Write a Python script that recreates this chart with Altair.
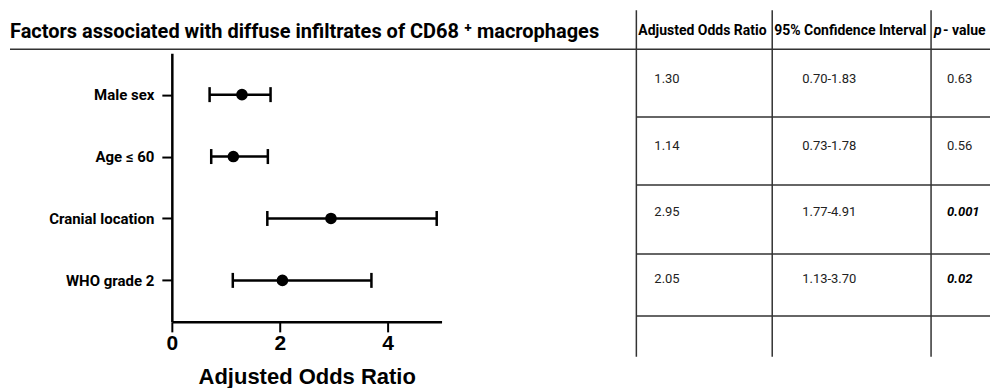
import altair as alt
import pandas as pd

# ---------------- data ----------------
factors = ["Male sex", "Age ≤ 60", "Cranial location", "WHO grade 2"]
odds = [1.30, 1.14, 2.95, 2.05]
ci_low = [0.70, 0.73, 1.77, 1.13]
ci_high = [1.83, 1.78, 4.91, 3.70]
p_values = ["0.63", "0.56", "0.001", "0.02"]
significant = [False, False, True, True]
headers = ["Adjusted Odds Ratio", "95% Confidence Interval", "p", "- value"]
header_italic = [False, False, True, False]
x_ticks = [0, 2, 4]
title_text = "Factors associated with diffuse infiltrates of CD68 ⁺ macrophages"
x_title = "Adjusted Odds Ratio"

# ---------------- layout (pixels) ----------------
COND = "Roboto"
ARIAL = "Liberation Sans"
PW, PH = 270, 314            # forest plot area
Y_RANGE = [45, 314]
TW, TH = 354, 349            # table area
col_lines = [0, 136, 295]
row_lines = [41, 109, 177, 246, 308]
header_x = [2, 138, 298, 307]
header_y = 23
cell_x = [18, 166, 311]
row_y = [71, 138, 204, 271]

df = pd.DataFrame({
    "factor": factors,
    "or": odds,
    "lo": ci_low,
    "hi": ci_high,
})

# ---------------- forest plot ----------------
xsc = alt.Scale(domain=[0, 5], nice=False, zero=False)
ysc = alt.Scale(type="point", domain=factors, range=Y_RANGE, padding=0.67)
x_axis = alt.Axis(values=x_ticks, title=x_title, grid=False, labelFlush=False,
                  labelFont=ARIAL, labelFontSize=21, labelFontWeight="bold",
                  labelColor="black", labelPadding=1, tickSize=10, tickWidth=2,
                  tickColor="black", domainColor="black", domainWidth=2.5,
                  titleFont=ARIAL, titleFontSize=22, titleFontWeight="bold",
                  titleColor="black", titlePadding=13)
y_enc = alt.Y("factor:N", scale=ysc, sort=factors,
              axis=alt.Axis(title=None, grid=False, labelFont=COND,
                            labelFontSize=15, labelFontWeight="bold",
                            labelColor="black", tickSize=10, tickWidth=2,
                            tickColor="black", domainColor="black",
                            domainWidth=2.5, labelPadding=8,
                            minExtent=164, maxExtent=164))

base = alt.Chart(df)
bars = base.mark_rule(strokeWidth=2.5, color="black").encode(
    x=alt.X("lo:Q", scale=xsc, axis=x_axis, title=x_title),
    x2="hi:Q", y=y_enc)
cap_lo = base.mark_tick(thickness=2.5, size=15, color="black", opacity=1).encode(
    x=alt.X("lo:Q", scale=xsc, title=x_title), y=y_enc)
cap_hi = base.mark_tick(thickness=2.5, size=15, color="black", opacity=1).encode(
    x=alt.X("hi:Q", scale=xsc, title=x_title), y=y_enc)
pts = base.mark_circle(size=135, color="black", opacity=1).encode(
    x=alt.X("or:Q", scale=xsc, title=x_title), y=y_enc)
title_mark = alt.Chart(pd.DataFrame({"t": [title_text]})).mark_text(
    align="left", baseline="middle", font=COND, fontSize=20,
    fontWeight="bold", color="black").encode(
    text="t:N", x=alt.value(-162), y=alt.value(24))

forest = alt.layer(bars, cap_lo, cap_hi, pts, title_mark).properties(
    width=PW, height=PH)

# ---------------- table ----------------
tx = alt.Scale(domain=[0, TW], nice=False, zero=False)
ty = alt.Scale(domain=[TH, 0], nice=False, zero=False)

vlines = alt.Chart(pd.DataFrame({"x": col_lines, "y1": [2] * 3, "y2": [TH] * 3})).mark_rule(
    color="#333333", strokeWidth=1.5).encode(
    x=alt.X("x:Q", scale=tx, axis=None),
    y=alt.Y("y1:Q", scale=ty, axis=None), y2="y2:Q")
hlines = alt.Chart(pd.DataFrame({"y": row_lines[1:], "x1": [0] * 4, "x2": [TW] * 4})).mark_rule(
    color="#333333", strokeWidth=1.5).encode(
    x=alt.X("x1:Q", scale=tx, axis=None), x2="x2:Q",
    y=alt.Y("y:Q", scale=ty, axis=None))
top_line = alt.Chart(pd.DataFrame({"y": [row_lines[0]]})).mark_rule(
    color="#333333", strokeWidth=1.5).encode(
    x=alt.value(-627), x2=alt.value(TW),
    y=alt.Y("y:Q", scale=ty, axis=None))

hdr = pd.DataFrame({"x": header_x, "y": [header_y] * 4, "t": headers, "it": header_italic})
hdr_norm = alt.Chart(hdr).transform_filter("!datum.it").mark_text(
    align="left", baseline="middle", font=COND, fontSize=14,
    fontWeight="bold", color="black").encode(
    x=alt.X("x:Q", scale=tx, axis=None), y=alt.Y("y:Q", scale=ty, axis=None), text="t:N")
hdr_it = alt.Chart(hdr).transform_filter("datum.it").mark_text(
    align="left", baseline="middle", font=COND, fontSize=14, fontStyle="italic",
    fontWeight="bold", color="black").encode(
    x=alt.X("x:Q", scale=tx, axis=None), y=alt.Y("y:Q", scale=ty, axis=None), text="t:N")

cells = []
for i in range(len(factors)):
    cells.append({"x": cell_x[0], "y": row_y[i], "t": f"{odds[i]:.2f}", "b": False})
    cells.append({"x": cell_x[1], "y": row_y[i], "t": f"{ci_low[i]:.2f}-{ci_high[i]:.2f}", "b": False})
    cells.append({"x": cell_x[2], "y": row_y[i], "t": p_values[i], "b": significant[i]})
cells = pd.DataFrame(cells)
cell_norm = alt.Chart(cells).transform_filter("!datum.b").mark_text(
    align="left", baseline="middle", font=COND, fontSize=13, color="#222222").encode(
    x=alt.X("x:Q", scale=tx, axis=None), y=alt.Y("y:Q", scale=ty, axis=None), text="t:N")
cell_bold = alt.Chart(cells).transform_filter("datum.b").mark_text(
    align="left", baseline="middle", font=COND, fontSize=13, fontStyle="italic",
    fontWeight="bold", color="black").encode(
    x=alt.X("x:Q", scale=tx, axis=None), y=alt.Y("y:Q", scale=ty, axis=None), text="t:N")

table = alt.layer(vlines, hlines, top_line, hdr_norm, hdr_it, cell_norm, cell_bold).properties(
    width=TW, height=TH)

chart = alt.hconcat(forest, table, spacing=195, bounds="flush", padding=0).configure_view(
    stroke=None).configure_axis(grid=False)

chart.save("out.html", embed_options={"renderer": "svg", "actions": False})
